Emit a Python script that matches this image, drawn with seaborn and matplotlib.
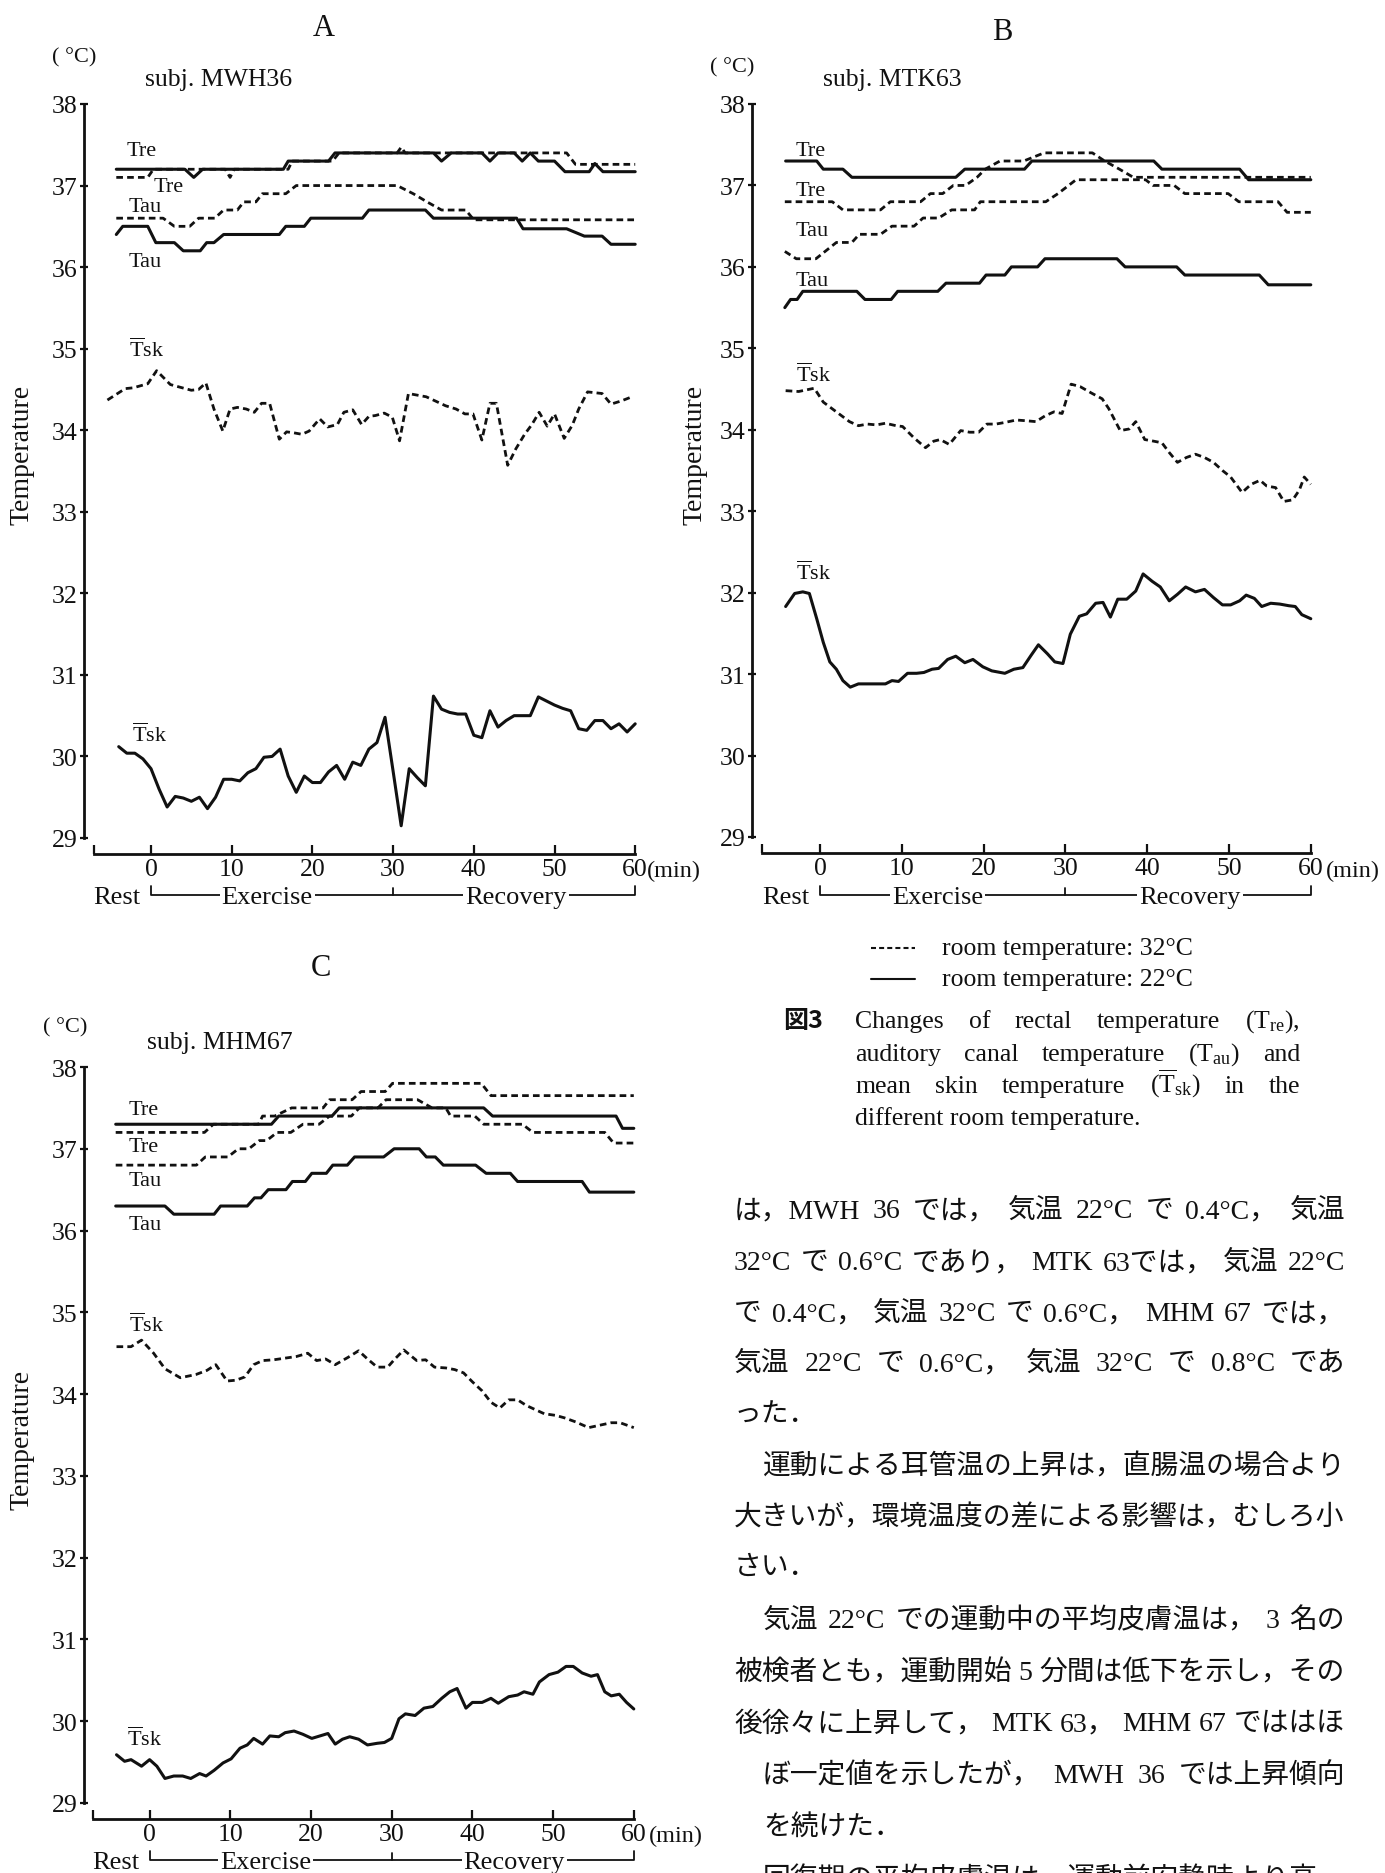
import numpy as np
import pandas as pd
import matplotlib
matplotlib.use("Agg")
import matplotlib.pyplot as plt
from matplotlib.lines import Line2D
from matplotlib.ticker import FixedLocator
import matplotlib.transforms as mtrans
import seaborn as sns

# ---------------- data ----------------
y_ticks = [29, 30, 31, 32, 33, 34, 35, 36, 37, 38]
x_ticks = [0, 10, 20, 30, 40, 50, 60]
minutes = list(range(-4, 61))

# Panel A  subj. MWH36
a_tre22_t = [-4.3, 4.2, 5.3, 6.4, 16.4, 17.0, 22.0, 22.8, 35.0, 36.0, 37.2, 41.0, 42.0, 43.0, 45.0, 46.0, 47.0, 48.0, 50.0, 51.3, 54.3, 55.0, 56.0, 60.0]
a_tre22_v = [37.2, 37.2, 37.1, 37.2, 37.2, 37.3, 37.3, 37.4, 37.4, 37.3, 37.4, 37.4, 37.3, 37.4, 37.4, 37.3, 37.4, 37.3, 37.3, 37.17, 37.17, 37.27, 37.17, 37.17]
a_tre32_t = [-4.3, -0.4, 0.3, 9.2, 9.8, 10.3, 17.0, 17.5, 22.5, 23.3, 30.5, 31.0, 31.5, 51.5, 52.6, 60.0]
a_tre32_v = [37.1, 37.1, 37.2, 37.2, 37.1, 37.2, 37.2, 37.3, 37.3, 37.4, 37.4, 37.47, 37.4, 37.4, 37.26, 37.26]
a_tau32_t = [-4.3, 1.5, 2.9, 4.8, 5.9, 7.9, 9.0, 10.7, 11.5, 13.0, 13.8, 16.7, 18.0, 30.5, 32.5, 34.2, 36.0, 39.0, 40.0, 60.0]
a_tau32_v = [36.6, 36.6, 36.5, 36.5, 36.6, 36.6, 36.7, 36.7, 36.8, 36.8, 36.9, 36.9, 37.0, 37.0, 36.9, 36.8, 36.7, 36.7, 36.58, 36.58]
a_tau22_t = [-4.3, -3.5, -0.4, 0.6, 2.9, 4.0, 6.1, 6.9, 7.8, 9.0, 15.9, 16.7, 19.0, 19.8, 26.2, 27.0, 34.0, 35.0, 45.3, 46.1, 51.5, 53.7, 55.9, 57.0, 60.0]
a_tau22_v = [36.4, 36.5, 36.5, 36.3, 36.3, 36.2, 36.2, 36.3, 36.3, 36.4, 36.4, 36.5, 36.5, 36.6, 36.6, 36.7, 36.7, 36.6, 36.6, 36.47, 36.47, 36.38, 36.38, 36.28, 36.28]
a_tsk32_t = [-5.4, -3.2, -2.2, -0.4, 0.7, 2.4, 3.5, 5.0, 5.9, 6.8, 7.8, 8.9, 9.8, 10.7, 11.8, 12.8, 13.7, 14.7, 15.9, 16.8,
             17.6, 18.7, 19.6, 20.9, 21.9, 23.1, 23.9, 25.0, 26.1, 27.0, 27.8, 28.9, 29.9, 30.8, 31.9, 33.0, 34.1, 35.2, 36.5, 37.8,
             38.9, 39.9, 41.0, 42.0, 42.8, 44.2, 45.2, 46.3, 47.2, 48.1, 49.1, 50.0, 51.2, 52.2, 53.0, 54.1, 55.9, 57.0, 58.3, 59.6]
a_tsk32_v = [34.37, 34.51, 34.52, 34.57, 34.73, 34.56, 34.53, 34.49, 34.50, 34.58, 34.26, 33.99, 34.26, 34.28, 34.26, 34.22, 34.33, 34.33, 33.89, 33.98,
             33.97, 33.95, 33.99, 34.14, 34.04, 34.07, 34.22, 34.25, 34.07, 34.17, 34.18, 34.21, 34.16, 33.87, 34.45, 34.43, 34.41, 34.36, 34.30, 34.26,
             34.20, 34.20, 33.88, 34.33, 34.33, 33.57, 33.77, 33.95, 34.07, 34.22, 34.05, 34.20, 33.90, 34.06, 34.26, 34.47, 34.45, 34.32, 34.36, 34.41]
a_tsk22_v = [30.12, 30.04, 30.04, 29.97, 29.85, 29.60, 29.38, 29.51, 29.49, 29.45, 29.50, 29.36, 29.50, 29.72, 29.72, 29.70, 29.80, 29.85, 29.99, 30.00,
             30.09, 29.76, 29.56, 29.76, 29.68, 29.68, 29.81, 29.89, 29.72, 29.93, 29.89, 30.09, 30.17, 30.48, 29.82, 29.15, 29.85, 29.74, 29.64, 30.74,
             30.58, 30.54, 30.52, 30.52, 30.26, 30.23, 30.56, 30.36, 30.44, 30.50, 30.50, 30.50, 30.73, 30.68, 30.63, 30.59, 30.56, 30.34, 30.32, 30.44,
             30.44, 30.34, 30.40, 30.30, 30.40]

# Panel B  subj. MTK63
b_tre22_t = [-4.2, -0.4, 0.4, 2.8, 3.9, 16.6, 17.7, 25.0, 25.9, 40.8, 41.8, 51.3, 52.4, 60.0]
b_tre22_v = [37.3, 37.3, 37.2, 37.2, 37.1, 37.1, 37.2, 37.2, 37.3, 37.3, 37.2, 37.2, 37.07, 37.07]
b_tre32_t = [-4.3, 1.5, 2.8, 7.4, 8.6, 12.3, 13.5, 15.0, 16.3, 17.8, 19.2, 20.2, 22.0, 24.9, 27.4, 33.3, 34.8, 36.6, 38.3, 60.0]
b_tre32_v = [36.8, 36.8, 36.7, 36.7, 36.8, 36.8, 36.9, 36.9, 37.0, 37.0, 37.1, 37.2, 37.3, 37.3, 37.4, 37.4, 37.3, 37.2, 37.1, 37.1]
b_tau32_t = [-4.3, -2.9, -0.5, 2.0, 3.9, 4.8, 7.4, 8.8, 11.5, 12.6, 14.5, 16.1, 18.9, 19.6, 27.6, 29.1, 31.3, 39.8, 40.7, 43.3, 44.6, 49.9, 51.2, 56.0, 57.1, 60.0]
b_tau32_v = [36.19, 36.1, 36.1, 36.3, 36.3, 36.4, 36.4, 36.5, 36.5, 36.6, 36.6, 36.7, 36.7, 36.8, 36.8, 36.9, 37.07, 37.07, 37.0, 37.0, 36.9, 36.9, 36.8, 36.8, 36.67, 36.67]
b_tau22_t = [-4.3, -3.6, -2.8, -2.1, 4.5, 5.5, 8.7, 9.5, 14.4, 15.4, 19.5, 20.3, 22.6, 23.4, 26.6, 27.5, 36.3, 37.3, 43.6, 44.6, 53.7, 54.8, 60.0]
b_tau22_v = [35.5, 35.6, 35.6, 35.7, 35.7, 35.6, 35.6, 35.7, 35.7, 35.8, 35.8, 35.9, 35.9, 36.0, 36.0, 36.1, 36.1, 36.0, 36.0, 35.9, 35.9, 35.78, 35.78]
b_tsk32_t = [-4.2, -2.6, -0.7, 0.4, 2.0, 3.6, 4.7, 5.8, 6.9, 8.0, 9.3, 10.1, 11.5, 12.9, 13.9, 14.7, 15.8, 17.2, 18.3, 19.4,
             20.4, 21.5, 22.6, 24.0, 25.3, 26.4, 27.5, 28.6, 29.6, 30.7, 31.8, 33.2, 34.5, 35.3, 36.7, 37.8, 38.6, 39.7, 40.8, 41.8,
             42.7, 43.7, 44.8, 45.9, 47.0, 48.1, 49.2, 50.2, 51.6, 52.7, 53.8, 54.6, 55.7, 56.7, 57.8, 58.6, 59.2, 60.0]
b_tsk32_v = [34.48, 34.47, 34.51, 34.34, 34.22, 34.10, 34.05, 34.07, 34.06, 34.08, 34.05, 34.04, 33.90, 33.78, 33.86, 33.88, 33.82, 33.99, 33.97, 33.97,
             34.07, 34.07, 34.09, 34.12, 34.11, 34.10, 34.17, 34.22, 34.20, 34.56, 34.53, 34.45, 34.38, 34.26, 33.99, 34.01, 34.10, 33.88, 33.86, 33.84,
             33.72, 33.60, 33.66, 33.70, 33.66, 33.60, 33.50, 33.42, 33.23, 33.33, 33.38, 33.31, 33.29, 33.12, 33.14, 33.26, 33.42, 33.33]
b_tsk22_t = [-4.2, -3.1, -2.1, -1.3, -0.4, 0.4, 1.2, 2.0, 2.8, 3.7, 4.7, 5.8, 6.9, 8.0, 8.8, 9.6, 10.7, 11.8, 12.7, 13.7,
             14.5, 15.6, 16.6, 17.7, 18.7, 19.9, 21.0, 22.6, 23.7, 24.8, 25.8, 26.7, 27.8, 28.7, 29.7, 30.6, 31.7, 32.6, 33.7, 34.6,
             35.5, 36.4, 37.5, 38.6, 39.5, 40.6, 41.6, 42.7, 43.7, 44.7, 45.9, 47.0, 48.1, 49.2, 50.2, 51.3, 52.1, 53.1, 54.0, 55.1,
             56.2, 57.3, 58.1, 58.9, 60.0]
b_tsk22_v = [31.83, 31.99, 32.01, 31.99, 31.68, 31.39, 31.15, 31.06, 30.92, 30.84, 30.88, 30.88, 30.88, 30.88, 30.92, 30.91, 31.01, 31.01, 31.02, 31.06,
             31.07, 31.18, 31.22, 31.14, 31.18, 31.09, 31.04, 31.01, 31.06, 31.08, 31.23, 31.36, 31.25, 31.15, 31.13, 31.49, 31.71, 31.74, 31.87, 31.88,
             31.70, 31.92, 31.92, 32.02, 32.23, 32.14, 32.07, 31.90, 31.98, 32.07, 32.01, 32.04, 31.94, 31.85, 31.85, 31.90, 31.97, 31.93, 31.83, 31.87,
             31.86, 31.84, 31.83, 31.73, 31.68]

# Panel C  subj. MHM67
c_tre22_t = [-4.2, 15.1, 16.0, 22.6, 23.5, 41.4, 42.5, 57.8, 58.6, 60.0]
c_tre22_v = [37.3, 37.3, 37.4, 37.4, 37.5, 37.5, 37.4, 37.4, 37.25, 37.25]
c_tre32_t = [-4.2, 6.8, 7.9, 13.5, 14.0, 15.5, 17.6, 21.5, 22.3, 25.1, 26.2, 29.2, 30.1, 41.1, 42.3, 60.0]
c_tre32_v = [37.2, 37.2, 37.3, 37.3, 37.4, 37.4, 37.5, 37.5, 37.6, 37.6, 37.7, 37.7, 37.8, 37.8, 37.65, 37.65]
c_tau32_t = [-4.2, 5.8, 6.9, 9.7, 11.0, 12.3, 13.6, 14.5, 15.8, 17.5, 19.0, 21.0, 22.3, 25.0, 26.0, 28.3, 29.3, 33.2, 35.0, 36.7, 37.3, 40.3, 41.4, 46.2, 47.5, 56.4, 57.5, 60.0]
c_tau32_v = [36.8, 36.8, 36.9, 36.9, 37.0, 37.0, 37.1, 37.1, 37.2, 37.2, 37.3, 37.3, 37.4, 37.4, 37.5, 37.5, 37.6, 37.6, 37.5, 37.5, 37.4, 37.4, 37.3, 37.3, 37.2, 37.2, 37.07, 37.07]
c_tau22_t = [-4.2, 1.9, 3.0, 8.0, 8.8, 12.1, 13.0, 13.8, 14.7, 16.9, 17.7, 19.3, 20.1, 21.9, 22.7, 24.5, 25.4, 29.0, 30.3, 33.4, 34.3, 35.4, 36.4, 40.4, 41.7, 44.7, 45.6, 53.6, 54.5, 60.0]
c_tau22_v = [36.3, 36.3, 36.2, 36.2, 36.3, 36.3, 36.4, 36.4, 36.5, 36.5, 36.6, 36.6, 36.7, 36.7, 36.8, 36.8, 36.9, 36.9, 37.0, 37.0, 36.9, 36.9, 36.8, 36.8, 36.7, 36.7, 36.6, 36.6, 36.47, 36.47]
c_tsk32_t = [-4.1, -2.3, -1.0, 0.5, 1.9, 3.8, 5.75, 7.1, 8.2, 9.6, 10.7, 11.8, 12.9, 14.0, 15.4, 16.8, 18.2, 19.6, 20.7, 21.8,
             23.0, 24.6, 25.9, 27.0, 28.2, 29.5, 30.4, 31.5, 33.1, 34.2, 35.3, 36.7, 37.8, 38.9, 40.0, 41.2, 42.3, 43.4, 44.5, 45.6,
             46.7, 47.8, 48.9, 50.3, 51.4, 52.8, 54.4, 55.8, 57.2, 58.3, 60.0]
c_tsk32_v = [34.58, 34.58, 34.66, 34.50, 34.31, 34.20, 34.24, 34.29, 34.36, 34.16, 34.17, 34.21, 34.36, 34.41, 34.42, 34.44, 34.46, 34.50, 34.41, 34.43,
             34.36, 34.45, 34.53, 34.43, 34.33, 34.33, 34.43, 34.54, 34.41, 34.42, 34.33, 34.32, 34.30, 34.26, 34.15, 34.04, 33.90, 33.83, 33.93, 33.93,
             33.86, 33.81, 33.76, 33.74, 33.71, 33.66, 33.59, 33.62, 33.65, 33.65, 33.59]
c_tsk22_t = [-4.1, -3.1, -2.3, -1.0, 0.0, 0.9, 1.9, 3.0, 4.1, 5.1, 6.2, 7.0, 8.0, 9.1, 10.1, 11.2, 12.1, 12.9, 14.0, 14.9,
             16.0, 16.8, 17.9, 19.0, 20.1, 21.1, 22.1, 23.0, 23.9, 24.8, 25.9, 27.0, 28.2, 29.1, 30.0, 30.9, 31.7, 32.9, 34.0, 35.1,
             36.2, 37.2, 38.1, 39.2, 40.0, 41.2, 42.3, 43.2, 44.5, 45.6, 46.4, 47.5, 48.3, 49.5, 50.6, 51.6, 52.5, 53.6, 54.7, 55.5,
             56.4, 57.2, 58.2, 59.1, 60.0]
c_tsk22_v = [29.59, 29.51, 29.53, 29.45, 29.53, 29.45, 29.30, 29.33, 29.33, 29.30, 29.36, 29.33, 29.40, 29.49, 29.54, 29.67, 29.71, 29.79, 29.72, 29.82,
             29.81, 29.86, 29.88, 29.84, 29.79, 29.82, 29.85, 29.72, 29.78, 29.81, 29.78, 29.71, 29.73, 29.74, 29.79, 30.03, 30.09, 30.07, 30.16, 30.18,
             30.28, 30.36, 30.40, 30.16, 30.23, 30.23, 30.28, 30.22, 30.30, 30.32, 30.36, 30.33, 30.48, 30.57, 30.60, 30.67, 30.67, 30.59, 30.55, 30.57,
             30.36, 30.31, 30.33, 30.23, 30.15]

legend_labels = ["room temperature: 32°C", "room temperature: 22°C"]
caption_lines = [
    ["Changes", "of", "rectal", "temperature", r"(T$_{\mathrm{re}}$),"],
    ["auditory", "canal", "temperature", r"(T$_{\mathrm{au}}$)", "and"],
    ["mean", "skin", "temperature", r"($\overline{\mathrm{T}}_{\mathrm{sk}}$)", "in", "the"],
]
caption_last = "different room temperature."
body_lines = [
    "は，MWH 36 では， 気温 22°C で 0.4°C， 気温",
    "32°C で 0.6°C であり， MTK 63では， 気温 22°C",
    "で 0.4°C， 気温 32°C で 0.6°C， MHM 67 では，",
    "気温 22°C で 0.6°C， 気温 32°C で 0.8°C であ",
    "った．",
    "運動による耳管温の上昇は，直腸温の場合より",
    "大きいが，環境温度の差による影響は，むしろ小",
    "さい．",
    "気温 22°C での運動中の平均皮膚温は， 3 名の",
    "被検者とも，運動開始 5 分間は低下を示し，その",
    "後徐々に上昇して， MTK 63， MHM 67 でははほ",
    "ぼ一定値を示したが， MWH 36 では上昇傾向",
    "を続けた．",
    "回復期の平均皮膚温は，運動前安静時より高",
]

# ---------------- style ----------------
W, H = 1385, 1874
sns.set_theme(style="white")
INK = "#111111"
plt.rcParams['font.family'] = ['Liberation Serif', 'Noto Sans CJK JP', 'DejaVu Sans']
plt.rcParams['mathtext.fontset'] = 'custom'
plt.rcParams['mathtext.rm'] = 'Liberation Serif'
plt.rcParams['mathtext.it'] = 'Liberation Serif:italic'
plt.rcParams['mathtext.bf'] = 'Liberation Serif:bold'
plt.rcParams['text.color'] = INK
plt.rcParams['axes.edgecolor'] = INK

fig = plt.figure(figsize=(W / 100, H / 100), dpi=100)
fig.patch.set_facecolor("white")
DASH = (0, (2.4, 1.5))


def ftext(x, y, s, **kw):
    return fig.text(x / W, 1 - y / H, s, **kw)


def draw_curve(ax, t, v, dashed):
    df = pd.DataFrame({"min": t, "temp": v})
    sns.lineplot(data=df, x="min", y="temp", ax=ax, estimator=None, sort=False,
                 errorbar=None, color=INK, linewidth=2.0 if dashed else 2.2,
                 linestyle=DASH if dashed else "-", legend=False)


panels = [
    dict(letter="A", letter_xy=(324, 28), subj="subj. MWH36", subj_xy=(145, 80), unit_xy=(74, 58),
         ylab_xy=(22, 455), left=84, t0=151.0, ppm=8.07, top=105, bottom=839, xstart=-7.1,
         brk_y=896, min_xy=(647, 871),
         curves=[(a_tre22_t, a_tre22_v, False), (a_tre32_t, a_tre32_v, True),
                 (a_tau32_t, a_tau32_v, True), (a_tau22_t, a_tau22_v, False),
                 (a_tsk32_t, a_tsk32_v, True), (minutes, a_tsk22_v, False)],
         labels=[("Tre", 127, 152), ("Tre", 154, 188), ("Tau", 129, 208), ("Tau", 129, 263),
                 (r"$\overline{\mathrm{T}}$sk", 129, 350), (r"$\overline{\mathrm{T}}$sk", 132, 735)]),
    dict(letter="B", letter_xy=(1002, 32), subj="subj. MTK63", subj_xy=(823, 80), unit_xy=(732, 68),
         ylab_xy=(695, 455), left=752, t0=820.0, ppm=8.18, top=105, bottom=838, xstart=-7.1,
         brk_y=896, min_xy=(1326, 871),
         curves=[(b_tre22_t, b_tre22_v, False), (b_tre32_t, b_tre32_v, True),
                 (b_tau32_t, b_tau32_v, True), (b_tau22_t, b_tau22_v, False),
                 (b_tsk32_t, b_tsk32_v, True), (b_tsk22_t, b_tsk22_v, False)],
         labels=[("Tre", 796, 152), ("Tre", 796, 192), ("Tau", 796, 232), ("Tau", 796, 282),
                 (r"$\overline{\mathrm{T}}$sk", 796, 375), (r"$\overline{\mathrm{T}}$sk", 796, 573)]),
    dict(letter="C", letter_xy=(321, 968), subj="subj. MHM67", subj_xy=(147, 1043), unit_xy=(65, 1028),
         ylab_xy=(22, 1440), left=84, t0=149.6, ppm=8.07, top=1068, bottom=1804, xstart=-7.0,
         brk_y=1861, min_xy=(649, 1836),
         curves=[(c_tre22_t, c_tre22_v, False), (c_tre32_t, c_tre32_v, True),
                 (c_tau32_t, c_tau32_v, True), (c_tau22_t, c_tau22_v, False),
                 (c_tsk32_t, c_tsk32_v, True), (c_tsk22_t, c_tsk22_v, False)],
         labels=[("Tre", 129, 1111), ("Tre", 129, 1148), ("Tau", 129, 1182), ("Tau", 129, 1225),
                 (r"$\overline{\mathrm{T}}$sk", 129, 1325), (r"$\overline{\mathrm{T}}$sk", 127, 1739)]),
]

for p in panels:
    x_right_t = 61.0
    xl = (p["left"] - p["t0"]) / p["ppm"]
    width_px = (x_right_t - xl) * p["ppm"]
    ax = fig.add_axes([p["left"] / W, 1 - p["bottom"] / H, width_px / W, (p["bottom"] - p["top"]) / H])
    ax.set_facecolor("none")
    for t, v, dashed in p["curves"]:
        draw_curve(ax, t, v, dashed)
    ax.set_xlim(xl, x_right_t)
    ax.set_ylim(29, 38)
    ax.set_xlabel("")
    ax.set_ylabel("")
    ax.grid(False)
    for s in ["top", "right"]:
        ax.spines[s].set_visible(False)
    ax.spines["left"].set_bounds(29, 38)
    ax.spines["bottom"].set_bounds(p["xstart"], 60)
    ax.spines["bottom"].set_position(("outward", 11.5))
    for s in ["left", "bottom"]:
        ax.spines[s].set_linewidth(2.0)
        ax.spines[s].set_color(INK)
    ax.set_yticks(y_ticks)
    ax.set_yticklabels([str(v) for v in y_ticks])
    ax.set_xticks(x_ticks)
    ax.set_xticklabels([str(v) for v in x_ticks])
    ax.xaxis.set_minor_locator(FixedLocator([p["xstart"]]))
    ax.tick_params(axis="y", left=True, direction="inout", length=6, width=1.6, pad=1.5,
                   labelsize=18.5, colors=INK)
    ax.tick_params(axis="x", which="major", bottom=True, direction="in", length=6.5, width=1.6,
                   pad=3.0, labelsize=18.5, colors=INK)
    ax.tick_params(axis="x", which="minor", bottom=True, direction="in", length=6.5, width=1.6, colors=INK)

    # bracket: Rest / Exercise / Recovery
    tr = mtrans.blended_transform_factory(ax.transData, fig.transFigure)
    yb = 1 - p["brk_y"] / H
    up9 = 9 / H
    up7 = 7 / H
    ax.plot([0, 0, 60, 60], [yb + up9, yb, yb, yb + up9], transform=tr, color=INK, lw=1.3, clip_on=False)
    ax.plot([30, 30], [yb, yb + up7], transform=tr, color=INK, lw=1.3, clip_on=False)
    ybase = 1 - (p["brk_y"] + 8.5) / H
    ax.text(-1.3, ybase, "Rest", transform=tr, ha="right", va="baseline", fontsize=19)
    bb = dict(facecolor="white", edgecolor="none", pad=1.5)
    ax.text(14.4, ybase, "Exercise", transform=tr, ha="center", va="baseline", fontsize=19, bbox=bb)
    ax.text(45.2, ybase, "Recovery", transform=tr, ha="center", va="baseline", fontsize=19, bbox=bb)

    ftext(*p["min_xy"], "(min)", ha="left", va="center", fontsize=17.5)
    ftext(*p["letter_xy"], p["letter"], ha="center", va="center", fontsize=22)
    ftext(*p["subj_xy"], p["subj"], ha="left", va="center", fontsize=18.5)
    ftext(*p["unit_xy"], "( °C)", ha="center", va="center", fontsize=16)
    ftext(*p["ylab_xy"], "Temperature", ha="center", va="center", rotation=90, fontsize=20)
    for s, x, y in p["labels"]:
        ftext(x, y, s, ha="left", va="center", fontsize=16)

# ---------------- legend ----------------
for (yy, ls), lab in zip([(949, DASH), (980, "-")], legend_labels):
    fig.add_artist(Line2D([871 / W, 915 / W], [1 - yy / H, 1 - yy / H], transform=fig.transFigure,
                          color=INK, lw=1.5, linestyle=ls))
    ftext(942, yy, lab, ha="left", va="center", fontsize=18.5)

# ---------------- caption & body text ----------------
renderer = fig.canvas.get_renderer()


def justify(tokens, x0, x1, y_base, size, **kw):
    objs = [fig.text(0, 0, tok, fontsize=size, ha="left", va="baseline", **kw) for tok in tokens]
    widths = [o.get_window_extent(renderer).width for o in objs]
    gap = (x1 - x0 - sum(widths)) / (len(objs) - 1) if len(objs) > 1 else 0
    x = x0
    for o, w in zip(objs, widths):
        o.set_position((x / W, 1 - y_base / H))
        x += w + gap


ftext(783, 1028, "図3", ha="left", va="baseline", fontsize=18, fontweight="bold",
      family=["Noto Sans CJK JP", "DejaVu Sans"])
for toks, yc in zip(caption_lines, [1020, 1053, 1085]):
    justify(toks, 855, 1300, yc + 8, 18.5)
ftext(855, 1117 + 8, caption_last, ha="left", va="baseline", fontsize=18.5)

body_y = [1208, 1260, 1311, 1361, 1412, 1464, 1515, 1565, 1618, 1670, 1721, 1773, 1825, 1877]
body_x0 = [734, 734, 734, 734, 734, 763, 734, 734, 763, 734, 734, 763, 763, 763]
body_just = [True, True, True, True, False, False, False, False, True, True, True, True, False, False]
for line, yc, x0, jst in zip(body_lines, body_y, body_x0, body_just):
    if jst:
        justify(line.split(" "), x0, 1345, yc + 10, 20)
    else:
        ftext(x0, yc + 10, line.replace(" ", ""), ha="left", va="baseline", fontsize=20)

fig.savefig("out.png", dpi=100, facecolor="white")
